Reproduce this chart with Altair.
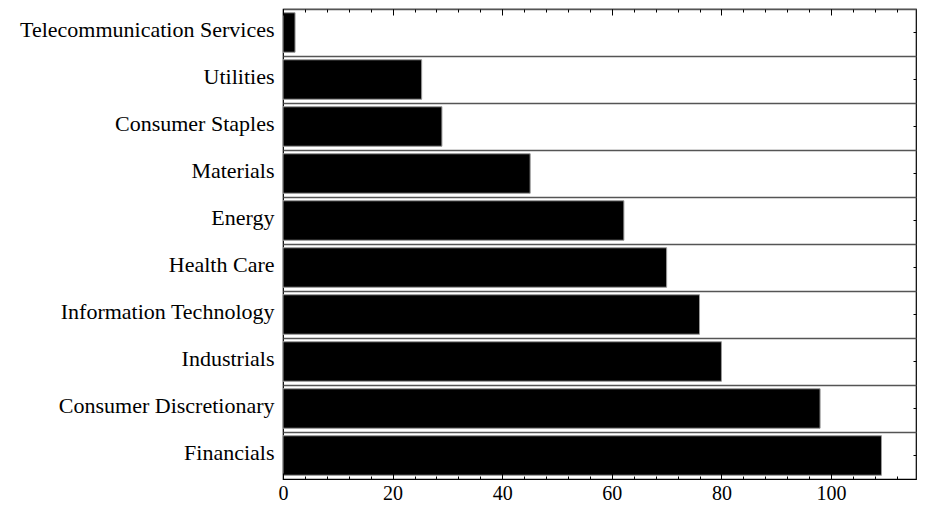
import altair as alt
import pandas as pd

sectors = ["Telecommunication Services", "Utilities", "Consumer Staples", "Materials",
           "Energy", "Health Care", "Information Technology", "Industrials",
           "Consumer Discretionary", "Financials"]
values = [2.2, 25.3, 29.0, 45.1, 62.2, 70.0, 76.0, 80.0, 98.0, 109.2]
major_ticks = [0, 20, 40, 60, 80, 100]
minor_ticks = [0, 4, 8, 12, 16, 20, 24, 28, 32, 36, 40, 44, 48, 52, 56, 60, 64, 68, 72,
               76, 80, 84, 88, 92, 96, 100, 104, 108, 112]

df = pd.DataFrame({"sector": sectors, "value": values})

FONT = "Liberation Serif"
xscale = alt.Scale(domain=[0, 115.5], nice=False, zero=False)
yscale = alt.Scale(domain=sectors, paddingInner=0, paddingOuter=0)

base = alt.Chart(df)

bars = base.mark_bar(height={"band": 0.84}, color="black", stroke="#9a9a9a", strokeWidth=1).encode(
    x=alt.X("value:Q", scale=xscale, title=None,
            axis=alt.Axis(values=major_ticks, ticks=False, domain=False, grid=False,
                          labelFont=FONT, labelFontSize=20, labelColor="black",
                          labelPadding=4, labelFlush=False)),
    y=alt.Y("sector:N", scale=yscale, sort=sectors, title=None,
            axis=alt.Axis(ticks=False, domain=False, grid=True, bandPosition=0,
                          gridColor="#555555", gridWidth=1.6, labelLimit=400,
                          labelFont=FONT, labelFontSize=22, labelColor="black",
                          labelPadding=9, labelOffset=-3)),
)

def tick_layer(orient, vals, size):
    return base.mark_point(opacity=0).encode(
        x=alt.X("value:Q", scale=xscale, title=None,
                axis=alt.Axis(orient=orient, values=vals, labels=False, domain=False,
                              grid=False, tickSize=size, offset=-size, tickColor="black",
                              tickWidth=1, zindex=1)),
        y=alt.Y("sector:N", scale=yscale, sort=sectors, axis=None),
    )

right_ticks = base.mark_point(opacity=0).encode(
    x=alt.X("value:Q", scale=xscale, axis=None),
    y=alt.Y("sector:N", scale=yscale, sort=sectors, title=None,
            axis=alt.Axis(orient="right", labels=False, domain=False, grid=False,
                          tickSize=3, offset=-3, tickColor="black", tickWidth=1, zindex=1)),
)

chart = alt.layer(
    bars,
    tick_layer("bottom", major_ticks, 6),
    tick_layer("bottom", minor_ticks, 3),
    tick_layer("top", major_ticks, 6),
    tick_layer("top", minor_ticks, 3),
    right_ticks,
).resolve_axis(x="independent", y="independent").properties(
    width=633, height=470,
    background="white",
    autosize=alt.AutoSizeParams(type="none"),
    padding={"left": 275, "top": 1, "right": 1, "bottom": 23},
).configure_view(stroke="black", strokeWidth=1.2)

chart.save("out.html", embed_options={"renderer": "svg", "actions": False})
